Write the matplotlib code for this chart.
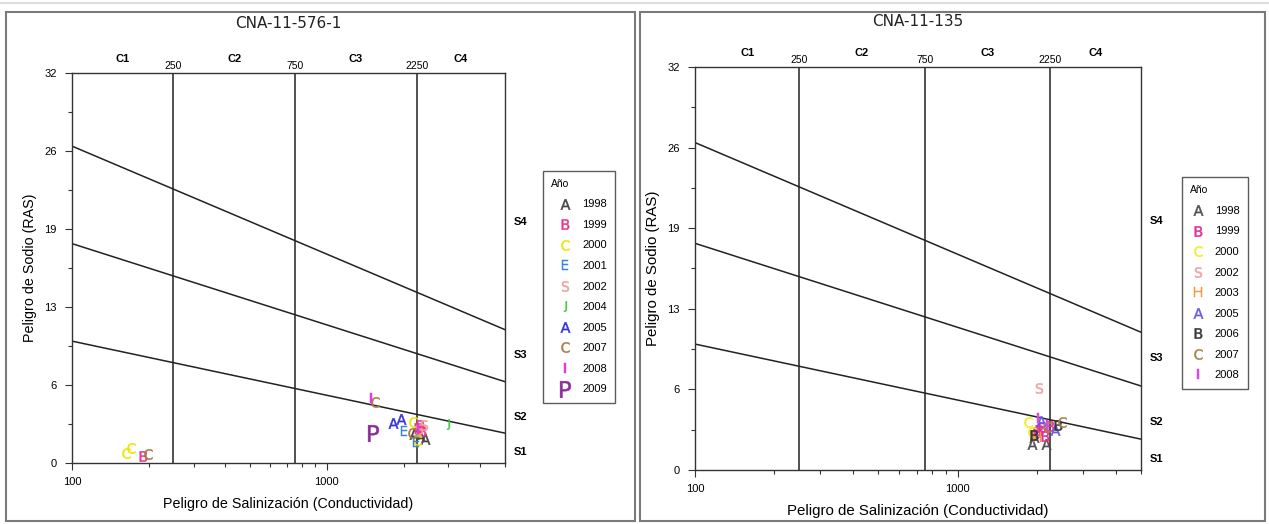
import matplotlib
matplotlib.use("Agg")
import matplotlib.pyplot as plt
import matplotlib.patches as patches
import matplotlib.transforms as transforms
from matplotlib.lines import Line2D
from matplotlib.ticker import MultipleLocator, FormatStrFormatter, LogLocator, NullFormatter, FixedLocator

plt.rcParams['font.family'] = ['Liberation Sans', 'DejaVu Sans']

# Riverside diagram boundaries (SAR at EC = 100 and EC = 5000)
ec_ends = [100, 5000]
s1_s2 = [10.0, 2.45]
s2_s3 = [18.0, 6.67]
s3_s4 = [26.0, 10.94]
c_bounds = [250, 750, 2250]
c_names = ['C1', 'C2', 'C3', 'C4']
c_label_ec = [158, 433, 1300, 3350]
s_names = ['S1', 'S2', 'S3', 'S4']
s_label_sar = [0.9, 3.8, 8.9, 19.8]

# CNA-11-576-1
left_years = ['1998', '1999', '2000', '2001', '2002', '2004', '2005', '2007', '2008', '2009']
left_letters = ['A', 'B', 'C', 'E', 'S', 'J', 'A', 'C', 'I', 'P']
left_colors = ['#454545', '#e23c8c', '#f0e400', '#3a86d4', '#f0a0a0',
               '#3cc83c', '#3434d0', '#a87a44', '#e03ce0', '#8c2c9c']
left_ec = [[2200, 2330, 2420], [190, 2280, 2330, 2360], [163, 170, 2180, 2250],
           [2010, 2240], [2400, 2300], [2990], [1820, 1950], [198, 1540, 2150],
           [1490, 2280], [1520]]
left_sar = [[2.4, 2.2, 2.0], [0.6, 2.9, 3.1, 2.6], [0.8, 1.2, 3.4, 1.9],
            [2.6, 1.7], [3.1, 2.8], [3.2], [3.3, 3.6], [0.7, 5.0, 2.5],
            [5.3, 2.8], [2.5]]

# CNA-11-135
right_years = ['1998', '1999', '2000', '2002', '2003', '2005', '2006', '2007', '2008']
right_letters = ['A', 'B', 'C', 'S', 'H', 'A', 'B', 'C', 'I']
right_colors = ['#505050', '#e0309a', '#f2ee20', '#f0a0a8', '#f09a40',
                '#6a5ae8', '#383838', '#a8804c', '#d84ae0']
right_ec = [[1930, 2170, 1950], [1950, 2050, 2150, 2250, 2000, 2100], [1850, 1920],
            [2050], [2000], [2080, 2350], [1960, 2420], [2500, 2200], [2030, 2200]]
right_sar = [[2.1, 2.1, 2.6], [2.8, 3.2, 2.7, 3.5, 3.0, 3.4], [3.8, 3.0],
             [6.5], [2.6], [3.9, 3.2], [2.8, 3.6], [3.8, 3.4], [4.1, 3.6]]


def panel(ax, title, years, letters, colors, ecs, sars, leg_anchor, leg_hl, leg_tp,
          label_fs, title_pad, big=None):
    ax.set_xscale('log')
    ax.set_xlim(100, 5000)
    ax.set_ylim(0, 32)

    for sar in (s1_s2, s2_s3, s3_s4):
        ax.plot(ec_ends, sar, color='#222222', lw=1.1, zorder=2)
    for c in c_bounds:
        ax.axvline(c, color='#222222', lw=1.1, zorder=2)

    tr = transforms.blended_transform_factory(ax.transData, ax.transAxes)
    for c in c_bounds:
        ax.text(c, 1.004, str(c), transform=tr, ha='center', va='bottom', fontsize=7.5)
    for x, n in zip(c_label_ec, c_names):
        ax.text(x, 1.022, n, transform=tr, ha='center', va='bottom', fontsize=8, fontweight='bold')
    tr2 = transforms.blended_transform_factory(ax.transAxes, ax.transData)
    for y, n in zip(s_label_sar, s_names):
        ax.text(1.02, y, n, transform=tr2, ha='left', va='center', fontsize=8, fontweight='bold')

    handles = []
    for i in range(len(years)):
        isbig = letters[i] == big
        mk = r'$\mathsf{%s}$' % letters[i]
        ax.plot(ecs[i], sars[i], linestyle='none', marker=mk, markersize=(12 if isbig else 7.5),
                mew=0.35, color=colors[i], zorder=3)
        handles.append(Line2D([], [], linestyle='none', marker=mk,
                              markersize=(12 if isbig else 7.5), mew=0.35,
                              color=colors[i], label=years[i]))

    leg = ax.legend(handles=handles, title='Año', loc='upper left',
                    bbox_to_anchor=leg_anchor, borderaxespad=0, fontsize=8,
                    title_fontsize=7.5, frameon=True, fancybox=False,
                    edgecolor='#333333', handlelength=leg_hl, handletextpad=leg_tp,
                    labelspacing=0.95, borderpad=0.75, alignment='left')
    leg.get_frame().set_linewidth(1.0)

    ax.set_yticks([0, 6.4, 12.8, 19.2, 25.6, 32])
    ax.yaxis.set_major_formatter(FormatStrFormatter('%.0f'))
    ax.yaxis.set_minor_locator(MultipleLocator(3.2))
    ax.xaxis.set_major_locator(FixedLocator([100, 1000]))
    ax.xaxis.set_minor_locator(LogLocator(base=10, subs=range(2, 10)))
    ax.xaxis.set_minor_formatter(NullFormatter())
    ax.set_xticklabels(['100', '1000'])
    ax.tick_params(which='major', length=5, width=0.8, labelsize=8, color='#333333')
    ax.tick_params(which='minor', length=3, width=0.8, color='#333333')
    ax.tick_params(axis='y', pad=6)
    ax.tick_params(axis='x', pad=5)
    for sp in ax.spines.values():
        sp.set_color('#333333')
        sp.set_linewidth(1.0)

    ax.set_xlabel('Peligro de Salinización (Conductividad)', fontsize=label_fs, labelpad=7)
    ax.set_ylabel('Peligro de Sodio (RAS)', fontsize=label_fs, labelpad=5)
    ax.set_title(title, fontsize=11, pad=title_pad, family=['DejaVu Sans'], color='#222222')


fig = plt.figure(figsize=(12.69, 5.24), dpi=100)

axl = fig.add_axes([72 / 1269, (524 - 463) / 524, 433 / 1269, 390 / 524])
panel(axl, 'CNA-11-576-1', left_years, left_letters, left_colors, left_ec, left_sar,
      (1.088, 0.75), 2.4, 0.35, 10.3, 32.5, big='P')

axr = fig.add_axes([695 / 1269, (524 - 470) / 524, 446 / 1269, 403 / 524])
panel(axr, 'CNA-11-135', right_years, right_letters, right_colors, right_ec, right_sar,
      (1.092, 0.727), 1.3, 0.9, 10.8, 29.5)

# panel frames
for x0, x1 in ((6, 635), (640, 1265)):
    fig.patches.append(patches.Rectangle((x0 / 1269, 3 / 524), (x1 - x0) / 1269, 509 / 524,
                                         transform=fig.transFigure, fill=False,
                                         edgecolor='#7a7a7a', linewidth=1.5))
fig.add_artist(Line2D([0, 1], [521 / 524, 521 / 524], transform=fig.transFigure,
                      color='#dddddd', lw=1.5))

fig.savefig('out.png', dpi=100)
